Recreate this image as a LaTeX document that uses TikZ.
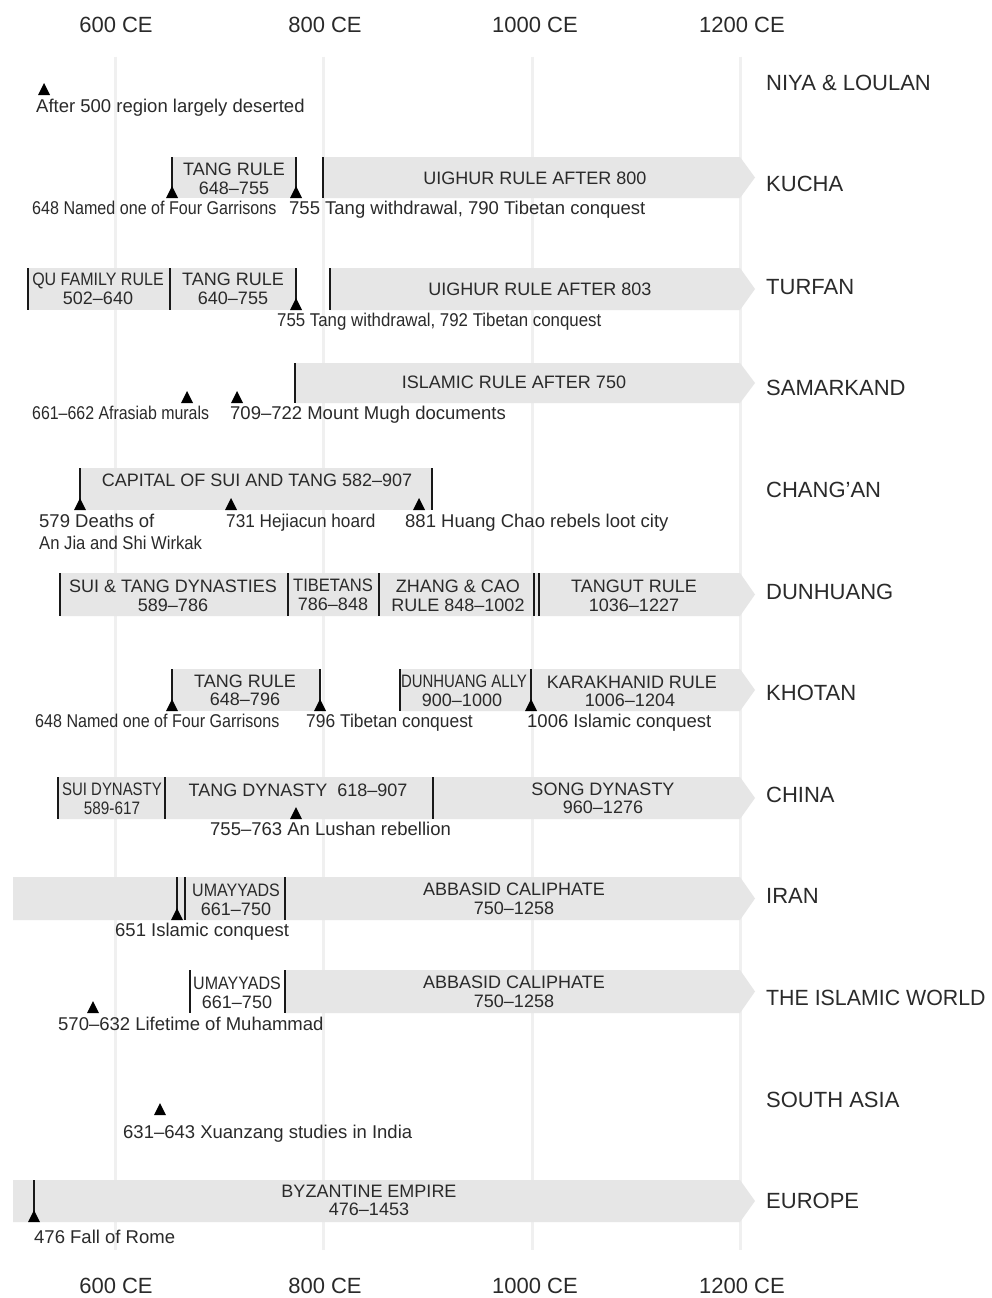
\documentclass[tikz,border=0pt]{standalone}
\usepackage{fontspec}
\setmainfont{Liberation Sans}
\usepackage{graphicx}
\definecolor{barc}{HTML}{E6E6E6}
\definecolor{gridc}{HTML}{F0F0F0}
\definecolor{txtc}{HTML}{2A2A2A}
\tikzset{
 gridline/.style={draw=gridc,line width=3pt},
 mkline/.style={draw=black!90,line width=2pt},
 axislab/.style={font=\fontsize{22}{24}\selectfont,text=txtc,inner sep=0pt,anchor=base},
 rowlab/.style={font=\fontsize{22}{24}\selectfont,text=txtc,inner sep=0pt,anchor=base west},
 bartext/.style={font=\fontsize{18}{19}\selectfont,text=txtc,inner sep=0pt,anchor=base},
 ann/.style={font=\fontsize{18.5}{21}\selectfont,text=txtc,inner sep=0pt,anchor=base west},
}
\newcommand\mytri[2]{\fill[black] (#1-6,#2) -- (#1+6,#2) -- (#1,#2-12) -- cycle;}
\newcommand\mymark[3]{\draw[mkline] (#1,#2) -- (#1,#3);}
\newcommand\arrowbar[3]{\fill[barc] (#1,#2) -- (740,#2) -- (755,{(#2+#3)/2}) -- (740,#3) -- (#1,#3) -- cycle;}
\newcommand\cnd[2]{\scalebox{#1}[1]{#2}}
\begin{document}
\begin{tikzpicture}[x={(1pt,0)},y={(0,-1pt)}]
\useasboundingbox (0,0) rectangle (991,1298);
\fill[white] (0,0) rectangle (991,1298);
% grid
\foreach \gx in {115,323,532,740} {\draw[gridline] (\gx,57) -- (\gx,1250);}
% axis labels
\node[axislab] (t600) at (116,33) {600 CE};
\node[axislab] (t800) at (325,33) {800 CE};
\node[axislab] (t1000) at (535,33) {1000 CE};
\node[axislab] (t1200) at (742,33) {1200 CE};
\node[axislab] (b600) at (116,1293) {600 CE};
\node[axislab] (b800) at (325,1293) {800 CE};
\node[axislab] (b1000) at (535,1293) {1000 CE};
\node[axislab] (b1200) at (742,1293) {1200 CE};
% row labels
\node[rowlab] (rniya) at (766,90) {NIYA \& LOULAN};
\node[rowlab] (rkucha) at (766,191) {KUCHA};
\node[rowlab] (rturfan) at (766,294) {TURFAN};
\node[rowlab] (rsamark) at (766,395) {SAMARKAND};
\node[rowlab] (rchang) at (766,497) {CHANG’AN};
\node[rowlab] (rdun) at (766,599) {DUNHUANG};
\node[rowlab] (rkhotan) at (766,700) {KHOTAN};
\node[rowlab] (rchina) at (766,802) {CHINA};
\node[rowlab] (riran) at (766,903) {IRAN};
\node[rowlab] (risl) at (766,1005) {\cnd{0.97}{THE ISLAMIC WORLD}};
\node[rowlab] (rsouth) at (766,1107) {SOUTH ASIA};
\node[rowlab] (reur) at (766,1208) {EUROPE};
% NIYA
\mytri{44}{95}
\node[ann] (aniya) at (36,112.5) {After 500 region largely deserted};
% KUCHA
\fill[barc] (172,157) rectangle (296,198);
\arrowbar{323}{157}{198}
\mymark{172}{157}{198}\mytri{172}{198}
\mymark{296}{157}{198}\mytri{296}{198}
\mymark{323}{157}{198}
\node[bartext] (k1) at (234,175.4) {TANG RULE};
\node[bartext] (k2) at (234,194.4) {648–755};
\node[bartext] (k3) at (535,184.4) {UIGHUR RULE AFTER 800};
\node[ann] (ka1) at (32,214.5) {\cnd{0.87}{648 Named one of Four Garrisons}};
\node[ann] (ka2) at (289,214.5) {755 Tang withdrawal, 790 Tibetan conquest};
% TURFAN
\fill[barc] (28,268) rectangle (296,310);
\arrowbar{330}{268}{310}
\mymark{28}{268}{310}
\mymark{170}{268}{310}
\mymark{296}{268}{310}\mytri{296}{310}
\mymark{330}{268}{310}
\node[bartext] (tu1) at (98,285.4) {\cnd{0.89}{QU FAMILY RULE}};
\node[bartext] (tu2) at (98,304.4) {502–640};
\node[bartext] (tu3) at (233,285.4) {TANG RULE};
\node[bartext] (tu4) at (233,304.4) {640–755};
\node[bartext] (tu5) at (540,295.4) {UIGHUR RULE AFTER 803};
\node[ann] (tua1) at (277,326.5) {\cnd{0.91}{755 Tang withdrawal, 792 Tibetan conquest}};
% SAMARKAND
\arrowbar{295}{363}{403}
\mymark{295}{363}{403}
\mytri{187}{403}
\mytri{237}{403}
\node[bartext] (s1) at (514,388.4) {ISLAMIC RULE AFTER 750};
\node[ann] (sa1) at (32,419.5) {\cnd{0.86}{661–662 Afrasiab murals}};
\node[ann] (sa2) at (230,419.5) {709–722 Mount Mugh documents};
% CHANG'AN
\fill[barc] (80,468) rectangle (432,510);
\mymark{80}{468}{510}\mytri{80}{510}
\mymark{432}{468}{510}
\mytri{231}{510}
\mytri{419}{510}
\node[bartext] (c1) at (257,486.4) {CAPITAL OF SUI AND TANG 582–907};
\node[ann] (ca1) at (39,527.5) {579 Deaths of};
\node[ann] (ca2) at (39,549.5) {\cnd{0.9}{An Jia and Shi Wirkak}};
\node[ann] (ca3) at (226,527.5) {\cnd{0.93}{731 Hejiacun hoard}};
\node[ann] (ca4) at (405,527.5) {881 Huang Chao rebels loot city};
% DUNHUANG
\arrowbar{60}{573}{616}
\mymark{60}{573}{616}
\mymark{288}{573}{616}
\mymark{379}{573}{616}
\mymark{534}{573}{616}
\mymark{538.5}{573}{616}
\node[bartext] (d1) at (173,592.4) {SUI \& TANG DYNASTIES};
\node[bartext] (d2) at (173,611.4) {589–786};
\node[bartext] (d3) at (333,591.4) {\cnd{0.92}{TIBETANS}};
\node[bartext] (d4) at (333,610.4) {786–848};
\node[bartext] (d5) at (458,592.4) {ZHANG \& CAO};
\node[bartext] (d6) at (458,611.4) {RULE 848–1002};
\node[bartext] (d7) at (634,592.4) {TANGUT RULE};
\node[bartext] (d8) at (634,611.4) {1036–1227};
% KHOTAN
\fill[barc] (172,669) rectangle (320,711);
\arrowbar{400}{669}{711}
\mymark{172}{669}{711}\mytri{172}{711}
\mymark{320}{669}{711}\mytri{320}{711}
\mymark{400}{669}{711}
\mymark{531}{669}{711}\mytri{531}{711}
\node[bartext] (kh1) at (245,687.4) {TANG RULE};
\node[bartext] (kh2) at (245,705.4) {648–796};
\node[bartext] (kh3) at (464,687.4) {\cnd{0.83}{DUNHUANG ALLY}};
\node[bartext] (kh4) at (462,706.4) {900–1000};
\node[bartext] (kh5) at (632,688.4) {KARAKHANID RULE};
\node[bartext] (kh6) at (630,706.4) {1006–1204};
\node[ann] (kha1) at (35,727.5) {\cnd{0.87}{648 Named one of Four Garrisons}};
\node[ann] (kha2) at (306,727.5) {\cnd{0.94}{796 Tibetan conquest}};
\node[ann] (kha3) at (527,727.5) {1006 Islamic conquest};
% CHINA
\arrowbar{58}{777}{819}
\mymark{58}{777}{819}
\mymark{165}{777}{819}
\mymark{433}{777}{819}
\mytri{296}{819}
\node[bartext] (ch1) at (112,795.4) {\cnd{0.83}{SUI DYNASTY}};
\node[bartext] (ch2) at (112,814.4) {\cnd{0.85}{589-617}};
\node[bartext] (ch3) at (298,796.4) {TANG DYNASTY\ \ 618–907};
\node[bartext] (ch4) at (603,795.4) {SONG DYNASTY};
\node[bartext] (ch5) at (603,813.4) {960–1276};
\node[ann] (cha1) at (210,835.5) {755–763 An Lushan rebellion};
% IRAN
\arrowbar{13}{877}{920}
\mymark{177}{877}{920}\mytri{177}{920}
\mymark{185}{877}{920}
\mymark{285}{877}{920}
\node[bartext] (i1) at (236,896.4) {\cnd{0.89}{UMAYYADS}};
\node[bartext] (i2) at (236,915.4) {661–750};
\node[bartext] (i3) at (514,895.4) {ABBASID CALIPHATE};
\node[bartext] (i4) at (514,914.4) {750–1258};
\node[ann] (ia1) at (115,936.5) {651 Islamic conquest};
% ISLAMIC WORLD
\arrowbar{285}{970}{1013}
\mymark{190}{970}{1013}
\mymark{285}{970}{1013}
\mytri{93}{1013}
\node[bartext] (w1) at (237,989.4) {\cnd{0.89}{UMAYYADS}};
\node[bartext] (w2) at (237,1008.4) {661–750};
\node[bartext] (w3) at (514,988.4) {ABBASID CALIPHATE};
\node[bartext] (w4) at (514,1007.4) {750–1258};
\node[ann] (wa1) at (58,1030.5) {570–632 Lifetime of Muhammad};
% SOUTH ASIA
\mytri{160}{1115}
\node[ann] (sa3) at (123,1138.5) {631–643 Xuanzang studies in India};
% EUROPE
\arrowbar{13}{1180}{1222}
\mymark{34}{1180}{1222}\mytri{34}{1222}
\node[bartext] (e1) at (369,1197.4) {BYZANTINE EMPIRE};
\node[bartext] (e2) at (369,1215.4) {476–1453};
\node[ann] (ea1) at (34,1243.5) {476 Fall of Rome};
\end{tikzpicture}
\end{document}
